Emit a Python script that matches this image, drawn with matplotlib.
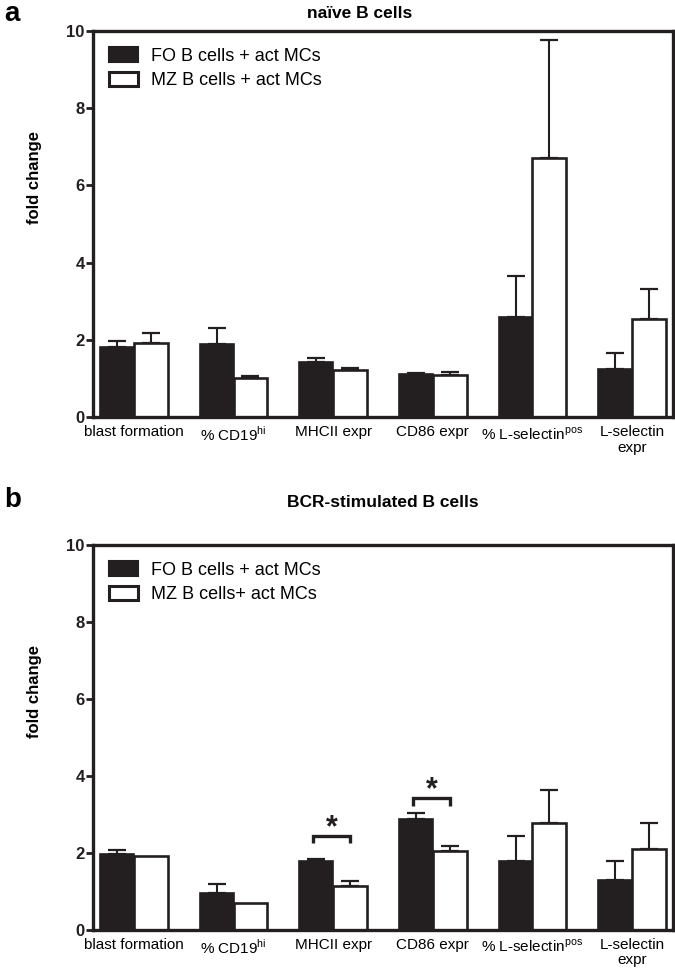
import matplotlib
matplotlib.use("Agg")
import matplotlib.pyplot as plt
from matplotlib.patches import Patch
import numpy as np

plt.rcParams['font.family'] = ['Liberation Sans', 'DejaVu Sans']

categories = ["blast formation", "% CD19$^{\\mathregular{hi}}$", "MHCII expr", "CD86 expr",
              "% L-selectin$^{\\mathregular{pos}}$", "L-selectin\nexpr"]

# panel a: naive B cells
a_fo = [1.82, 1.88, 1.43, 1.11, 2.60, 1.25]
a_fo_err = [0.16, 0.42, 0.09, 0.04, 1.05, 0.40]
a_mz = [1.93, 1.02, 1.22, 1.08, 6.72, 2.55]
a_mz_err = [0.26, 0.04, 0.05, 0.10, 3.06, 0.77]

# panel b: BCR-stimulated B cells
b_fo = [1.98, 0.96, 1.78, 2.89, 1.80, 1.30]
b_fo_err = [0.09, 0.23, 0.06, 0.14, 0.63, 0.50]
b_mz = [1.92, 0.70, 1.15, 2.04, 2.78, 2.10]
b_mz_err = [0.00, 0.00, 0.11, 0.15, 0.85, 0.67]

legend_a = ["FO B cells + act MCs", "MZ B cells + act MCs"]
legend_b = ["FO B cells + act MCs", "MZ B cells+ act MCs"]
titles = ["naïve B cells", "BCR-stimulated B cells"]
letters = ["a", "b"]
# significance: (category index, bracket height, leg bottom)
sig_b = [(2, 2.45, 2.26), (3, 3.43, 3.22)]

DARK = '#231f20'
W, H = 675, 974
fig = plt.figure(figsize=(6.75, 9.74), dpi=100)
ax_a = fig.add_axes([0.1378, 0.5718, 0.8592, 0.3963])
ax_b = fig.add_axes([0.1378, 0.0452, 0.8592, 0.3953])

def draw(ax, fo, fo_err, mz, mz_err, legend, title, title_xy, letter, letter_xy, sigs):
    x = np.arange(len(categories))
    w = 0.34
    ax.bar(x - w/2, fo, w, color=DARK, edgecolor=DARK, linewidth=1.2, zorder=2)
    ax.bar(x + w/2, mz, w, color='white', edgecolor=DARK, linewidth=1.9, zorder=2)
    for xs, v, e in ((x - w/2, fo, fo_err), (x + w/2, mz, mz_err)):
        for xi, vi, ei in zip(xs, v, e):
            if ei > 0.005:
                ax.errorbar(xi, vi, yerr=[[0], [ei]], fmt='none', ecolor=DARK,
                            elinewidth=1.5, capsize=6.5, capthick=1.6, zorder=1)
    for ci, top, bot in sigs:
        x0, x1 = ci - w/2 - 0.03, ci + w/2
        ax.plot([x0, x0, x1, x1], [bot, top, top, bot], color=DARK, lw=2.4,
                solid_joinstyle='miter', solid_capstyle='butt', zorder=3)
        ax.text((x0 + x1)/2, top - 0.2, "*", ha='center', va='bottom',
                fontsize=22, fontweight='bold', color=DARK)
    ax.set_xlim(-0.41, 5.41)
    ax.set_ylim(0, 10)
    ax.set_yticks([0, 2, 4, 6, 8, 10])
    ax.set_yticklabels(['0', '2', '4', '6', '8', '10'], fontweight='bold', fontsize=12)
    ax.set_xticks(x)
    ax.set_xticklabels(categories, fontsize=11, linespacing=1.1)
    ax.tick_params(axis='x', length=0, pad=6)
    ax.tick_params(axis='y', length=5, width=2, pad=1, colors=DARK)
    for s in ax.spines.values():
        s.set_linewidth(2.4)
        s.set_color(DARK)
    ax.set_ylabel("fold change", fontweight='bold', fontsize=12)
    ax.yaxis.set_label_coords(-0.088, 0.62)
    fig.text(title_xy[0] / W, 1 - title_xy[1] / H, title, ha='center', va='center',
             fontweight='bold', fontsize=12.5)
    fig.text(letter_xy[0] / W, 1 - letter_xy[1] / H, letter, ha='left', va='center',
             fontweight='bold', fontsize=20)
    handles = [Patch(facecolor=DARK, edgecolor=DARK, linewidth=1.5),
               Patch(facecolor='white', edgecolor=DARK, linewidth=2.2)]
    ax.legend(handles, legend, loc='upper left', bbox_to_anchor=(0.0, 1.0),
              frameon=False, fontsize=13, handlelength=1.6, handleheight=0.85,
              handletextpad=0.7, labelspacing=0.4, borderaxespad=0.5)

draw(ax_a, a_fo, a_fo_err, a_mz, a_mz_err, legend_a, titles[0], (360, 13),
     letters[0], (4, 14), [])
draw(ax_b, b_fo, b_fo_err, b_mz, b_mz_err, legend_b, titles[1], (383, 502),
     letters[1], (4, 500), sig_b)

fig.savefig("out.png", dpi=100)
